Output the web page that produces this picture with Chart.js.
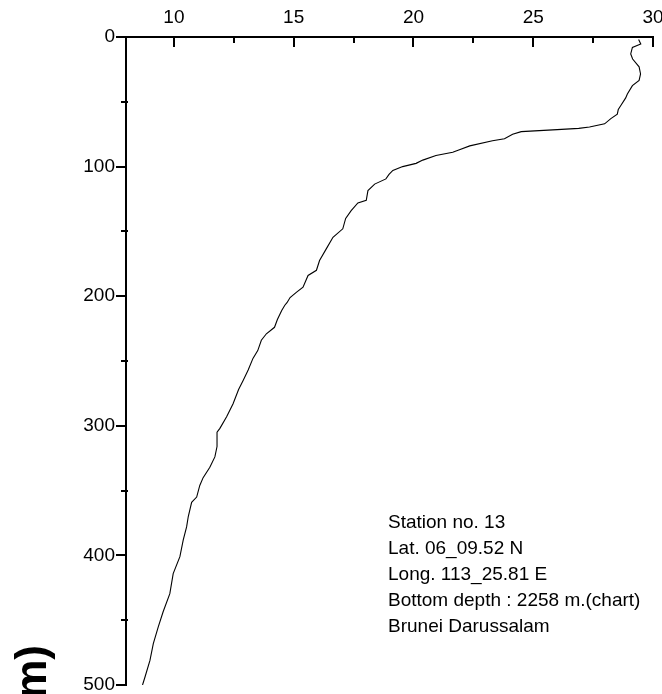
<!DOCTYPE html>
<html lang="en">
<head>
<meta charset="UTF-8">
<title>Station 13 temperature profile</title>
<script src="https://cdn.jsdelivr.net/npm/chart.js"></script>
<style>
    body { margin: 0; background: #fff; }
    canvas { display: block; }
</style>
</head>
<body>
<canvas id="profile" width="662" height="694"></canvas>
<script>
// depth (m) and temperature (deg C)
const depths = [2, 5.4, 8, 13, 17, 23, 28.5, 33.5, 37.5, 44, 47, 53, 56, 59.5, 63, 67, 69.5, 70.5, 71.5, 73,
    75, 78.5, 80, 84, 87, 89, 91.5, 95, 97.5, 100, 103, 106, 109.5, 113.5, 118.5, 126, 128, 134, 140, 148,
    154.5, 163.5, 172.5, 180, 184, 193, 197, 201, 205, 207, 211, 218, 224, 229, 234, 242, 248, 257, 265, 272,
    283, 293, 302, 305, 316, 324, 332, 340, 346, 355, 359, 370, 378, 388, 401, 414, 429.5, 443.5, 455, 468,
    481, 494, 500];
const temps = [29.4, 29.49, 29.14, 29.07, 29.15, 29.42, 29.48, 29.42, 29.14, 28.93, 28.86, 28.65, 28.55, 28.51, 28.24, 27.98, 27.35, 26.9, 26.0, 24.5,
    24.14, 23.8, 23.3, 22.35, 21.92, 21.64, 20.94, 20.39, 20.11, 19.55, 19.14, 18.98, 18.85, 18.38, 18.1, 18.03, 17.68, 17.4, 17.17, 17.05,
    16.64, 16.36, 16.08, 15.95, 15.6, 15.39, 15.11, 14.85, 14.72, 14.63, 14.5, 14.32, 14.2, 13.86, 13.65, 13.5, 13.3, 13.1, 12.89, 12.7,
    12.47, 12.2, 11.92, 11.8, 11.8, 11.71, 11.5, 11.22, 11.08, 10.95, 10.74, 10.6, 10.53, 10.39, 10.25, 9.97, 9.83, 9.55, 9.35, 9.14,
    9.0, 8.79, 8.69];

const tempTicks = [10, 15, 20, 25, 30];
const depthTicks = [0, 100, 200, 300, 400, 500];
const stationInfo = [
    'Station no. 13',
    'Lat. 06_09.52 N',
    'Long. 113_25.81 E',
    'Bottom depth : 2258 m.(chart)',
    'Brunei Darussalam'
];
const depthTitle = 'Depth (m)';

// axis lines, inward/outward ticks, the station note and the clipped axis title
const framePlugin = {
    id: 'frame',
    afterDraw(chart) {
        const { ctx, chartArea: a, scales: { x, y } } = chart;
        ctx.save();
        ctx.strokeStyle = '#000';
        ctx.lineWidth = 2;
        ctx.beginPath();
        ctx.moveTo(a.left - 10, a.top);
        ctx.lineTo(x.getPixelForValue(30) + 1, a.top);
        ctx.moveTo(a.left, a.top);
        ctx.lineTo(a.left, a.bottom);

        tempTicks.forEach(v => {
            const px = Math.round(x.getPixelForValue(v));
            ctx.moveTo(px, a.top);
            ctx.lineTo(px, a.top + 10);
            if (v - 2.5 > x.min) {
                const mx = Math.round(x.getPixelForValue(v - 2.5));
                ctx.moveTo(mx, a.top);
                ctx.lineTo(mx, a.top + 6);
            }
        });
        depthTicks.forEach(v => {
            const py = Math.round(y.getPixelForValue(v));
            ctx.moveTo(a.left - 10, py);
            ctx.lineTo(a.left + 1, py);
            if (v + 50 < y.max) {
                const my = Math.round(y.getPixelForValue(v + 50));
                ctx.moveTo(a.left - 5, my);
                ctx.lineTo(a.left + 2, my);
            }
        });
        ctx.stroke();

        ctx.fillStyle = '#000';
        ctx.font = '19px Arial';
        ctx.textBaseline = 'middle';
        ctx.textAlign = 'left';
        stationInfo.forEach((line, i) => {
            ctx.fillText(line, 388, 523 + i * 26);
        });

        ctx.translate(46, 645);
        ctx.rotate(-Math.PI / 2);
        ctx.font = 'bold 44px Arial';
        ctx.textAlign = 'right';
        ctx.textBaseline = 'alphabetic';
        ctx.fillText(depthTitle, 0, 0);
        ctx.restore();
    }
};

const ctx = document.getElementById('profile').getContext('2d');
new Chart(ctx, {
    type: 'line',
    data: {
        datasets: [{
            data: depths.map((d, i) => ({ x: temps[i], y: d })),
            borderColor: '#000',
            borderWidth: 1.1,
            pointRadius: 0,
            fill: false,
            tension: 0
        }]
    },
    options: {
        responsive: false,
        animation: false,
        layout: { padding: { top: 0, left: 0, right: 9, bottom: 9 } },
        plugins: {
            legend: { display: false },
            tooltip: { enabled: false }
        },
        scales: {
            x: {
                type: 'linear',
                position: 'top',
                min: 8,
                max: 30,
                afterBuildTicks: s => { s.ticks = tempTicks.map(v => ({ value: v })); },
                afterFit: s => {
                    s.height = 37;
                    s.paddingLeft = 0;
                    s.paddingRight = 0;
                },
                grid: { display: false, drawTicks: false },
                border: { display: false },
                ticks: {
                    color: '#000',
                    font: { family: 'Arial', size: 19 },
                    padding: 8,
                    maxRotation: 0,
                    autoSkip: false
                }
            },
            y: {
                type: 'linear',
                reverse: true,
                min: 0,
                max: 500,
                afterBuildTicks: s => { s.ticks = depthTicks.map(v => ({ value: v })); },
                afterFit: s => {
                    s.width = 126;
                    s.paddingTop = 0;
                    s.paddingBottom = 0;
                },
                grid: { display: false, drawTicks: false },
                border: { display: false },
                ticks: {
                    color: '#000',
                    font: { family: 'Arial', size: 19 },
                    padding: 11,
                    autoSkip: false
                }
            }
        }
    },
    plugins: [framePlugin]
});
</script>
</body>
</html>
